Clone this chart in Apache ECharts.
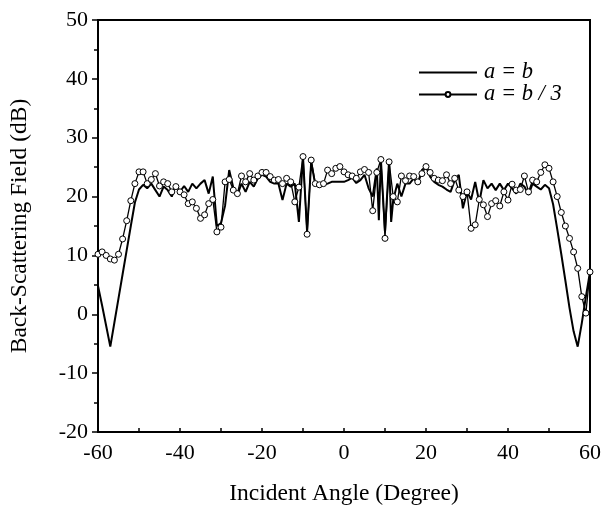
<!DOCTYPE html>
<html>
<head>
<meta charset="utf-8">
<script src="https://cdn.jsdelivr.net/npm/echarts@6/dist/echarts.min.js"></script>
<style>html,body{margin:0;padding:0;background:#fff}#c{width:605px;height:506px}</style>
</head>
<body>
<div id="c"></div>
<script>
// a = b (solid line)
const anglesAB = [-60,-59,-58,-57,-56,-55,-54,-53,-52,-51,-50,-49,-48,-47,-46,-45,-44,-43,-42,-41,-40,-39,-38,-37,-36,-35,-34,-33,-32,-31,-30,-29,-28,-27,-26,-25,-24,-23,-22,-21,-20,-19,-18,-17,-16,-15,-14,-13,-12,-11,-10,-9,-8,-7,-6,-5,-4,-3,-2,-1,0,1,2,3,4,5,6,7,8,8.5,9,10,11,11.5,12,13,14,15,16,17,18,19,20,21,22,23,24,25,26,27,28,29,30,31,32,33,34,35,36,37,38,39,40,41,42,43,44,45,46,47,48,49,50,51,52,53,54,55,56,57,58,59,60];
const valuesAB = [4.8,1.5,-2,-5.5,-1.4,2.7,6.8,10.9,15,19,21.2,22,21.4,22.2,21.1,20,21.7,21.1,20,22,20.8,21.8,20.8,22.2,21.4,22.2,22.8,20.5,23.4,15,15.5,18.5,24.5,21.5,20.3,22.2,20.8,22.5,21.7,23.1,23.7,23.4,22.5,22.2,22.2,19.4,22.2,21.7,22.2,15.7,26.8,14,25.9,22,21.7,22,22.2,22.5,22.5,22.5,22.5,22.8,23.2,22.3,22.8,23.7,21.4,20,24.8,16,26.3,14,26.2,15.7,19.4,22.2,20,22.2,22.2,23.1,22.2,24.5,25.1,23.4,22.5,22,21.7,21.2,20.8,22.8,23.7,18,20.8,19.5,22.5,19,22.8,21.4,22.2,21.1,22.2,21.1,22.2,21.4,20.5,22.2,21.7,20.3,22.2,21.7,21.2,22,21.4,18.7,14.5,10.2,5.7,1.1,-2.9,-5.5,-1.5,3,7.2];
// a = b / 3 (line with open circles)
const anglesAB3 = [-60,-59,-58,-57,-56,-55,-54,-53,-52,-51,-50,-49,-48,-47,-46,-45,-44,-43,-42,-41,-40,-39,-38,-37,-36,-35,-34,-33,-32,-31,-30,-29,-28,-27,-26,-25,-24,-23,-22,-21,-20,-19,-18,-17,-16,-15,-14,-13,-12,-11,-10,-9,-8,-7,-6,-5,-4,-3,-2,-1,0,1,2,3,4,5,6,7,8,9,10,11,12,13,14,15,16,17,18,19,20,21,22,23,24,25,26,27,28,29,30,31,32,33,34,35,36,37,38,39,40,41,42,43,44,45,46,47,48,49,50,51,52,53,54,55,56,57,58,59,60];
const valuesAB3 = [10.2,10.6,10.0,9.4,9.2,10.2,12.8,15.9,19.3,22.2,24.2,24.2,22.2,22.9,23.9,21.8,22.5,22.2,20.8,21.7,20.8,20.3,18.8,19.1,18.0,16.3,16.9,18.8,19.5,14.0,14.8,22.5,22.9,21.1,20.5,23.5,22.5,23.9,22.8,23.5,24.1,24.1,23.4,22.8,22.9,22.2,23.1,22.5,19.1,21.6,26.8,13.6,26.2,22.2,22.0,22.2,24.5,23.9,24.8,25.1,24.2,23.7,23.5,23.1,24.2,24.6,24.1,17.6,24.1,26.3,12.9,25.9,20.0,19.1,23.5,22.7,23.5,23.4,22.5,23.9,25.1,24.1,23.1,22.8,22.7,23.7,22.2,23.1,21.1,20.0,20.8,14.6,15.2,19.5,18.6,16.6,18.8,19.3,18.4,20.8,19.4,22.1,21.1,21.2,23.5,20.8,22.8,22.5,24.1,25.4,24.8,22.5,20.0,17.3,15.0,12.9,10.6,7.8,3.0,0.2,7.2];
const seriesNames = ['a = b', 'a = b / 3'];
const xTicks = {min: -60, max: 60, step: 20};
const yTicks = {min: -20, max: 50, step: 10};

const font = 'Liberation Serif';
const chart = echarts.init(document.getElementById('c'), null, {renderer: 'canvas'});
const pair = (xs, ys) => xs.map((x, i) => [x, ys[i]]);
chart.setOption({
  animation: false,
  backgroundColor: '#fff',
  grid: {left: 98, right: 15, top: 20, bottom: 74, containLabel: false, outerBoundsMode: 'none',
         show: true, borderColor: '#000', borderWidth: 2, backgroundColor: 'transparent'},
  legend: {
    orient: 'vertical', left: 413, top: 56, itemWidth: 58, itemHeight: 6, itemGap: -1,
    textStyle: {fontFamily: font, fontStyle: 'italic', fontSize: 22.5, color: '#000', padding: [0, 0, 0, 2]},
    data: [
      {name: seriesNames[0], itemStyle: {opacity: 0}},
      {name: seriesNames[1]}
    ]
  },
  xAxis: {
    type: 'value', min: xTicks.min, max: xTicks.max, interval: xTicks.step,
    name: 'Incident Angle (Degree)', nameLocation: 'middle', nameGap: 50,
    nameTextStyle: {fontFamily: font, fontSize: 23.5, color: '#000'},
    axisLine: {onZero: false, lineStyle: {color: '#000', width: 2}},
    axisTick: {inside: true, length: 4, lineStyle: {color: '#000', width: 1.5}},
    minorTick: {show: true, splitNumber: 2, length: 4, lineStyle: {color: '#000', width: 1.5}},
    axisLabel: {fontFamily: font, fontSize: 22, color: '#000', margin: 10},
    splitLine: {show: false}
  },
  yAxis: {
    type: 'value', min: yTicks.min, max: yTicks.max, interval: yTicks.step,
    name: 'Back-Scattering Field (dB)', nameLocation: 'middle', nameGap: 66,
    nameTextStyle: {fontFamily: font, fontSize: 23.5, color: '#000'},
    axisLine: {onZero: false, lineStyle: {color: '#000', width: 2}},
    axisTick: {inside: false, length: 6, lineStyle: {color: '#000', width: 1.5}},
    minorTick: {show: true, splitNumber: 2, length: 4, lineStyle: {color: '#000', width: 1.5}},
    axisLabel: {fontFamily: font, fontSize: 22, color: '#000', margin: 10},
    splitLine: {show: false}
  },
  series: [
    {
      name: seriesNames[0], type: 'line', data: pair(anglesAB, valuesAB),
      symbol: 'none', lineStyle: {color: '#000', width: 2}, itemStyle: {color: '#000'}
    },
    {
      name: seriesNames[1], type: 'line', data: pair(anglesAB3, valuesAB3),
      symbol: 'circle', symbolSize: 6, showAllSymbol: true,
      lineStyle: {color: '#000', width: 1.3},
      itemStyle: {color: '#fff', borderColor: '#000', borderWidth: 1}
    }
  ]
});
</script>
</body>
</html>
